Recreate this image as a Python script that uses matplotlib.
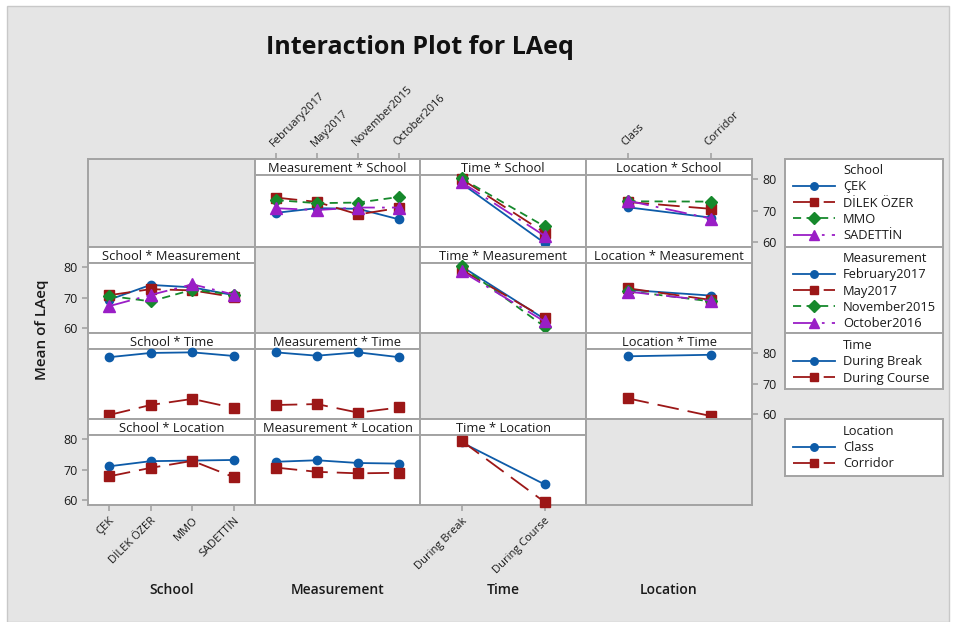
import matplotlib
matplotlib.use('Agg')
import matplotlib.pyplot as plt
from matplotlib.lines import Line2D
from matplotlib.patches import Rectangle
import numpy as np

plt.rcParams['font.family'] = ['Open Sans', 'DejaVu Sans']

# factors and levels
factors = ['School', 'Measurement', 'Time', 'Location']
school_levels = ['ÇEK', 'DİLEK ÖZER', 'MMO', 'SADETTİN']
measurement_levels = ['February2017', 'May2017', 'November2015', 'October2016']
time_levels = ['During Break', 'During Course']
location_levels = ['Class', 'Corridor']
levels = [school_levels, measurement_levels, time_levels, location_levels]

# mean LAeq per cell (rows = first factor level, cols = second factor level)
school_measurement = [[69.3, 70.8, 70.6, 67.2],
                      [74.2, 72.8, 68.8, 70.9],
                      [73.4, 72.4, 72.6, 74.4],
                      [70.8, 70.2, 71.0, 71.0]]
school_time = [[78.7, 59.7],
               [80.1, 63.0],
               [80.3, 65.0],
               [79.1, 62.0]]
school_location = [[71.1, 67.8],
                   [72.8, 70.6],
                   [73.0, 72.9],
                   [73.2, 67.5]]
measurement_time = [[80.3, 63.0],
                    [79.2, 63.3],
                    [80.3, 60.5],
                    [78.7, 62.2]]
measurement_location = [[72.6, 70.7],
                        [73.1, 69.3],
                        [72.2, 68.8],
                        [72.0, 69.0]]
time_location = [[79.0, 79.5],
                 [65.2, 59.4]]

y_ticks = [60, 70, 80]

pair_means = {(0, 1): school_measurement, (0, 2): school_time,
              (0, 3): school_location, (1, 2): measurement_time,
              (1, 3): measurement_location, (2, 3): time_location}


def cell_means(trace, xf):
    if (trace, xf) in pair_means:
        return np.array(pair_means[(trace, xf)])
    return np.array(pair_means[(xf, trace)]).T


# styling
W, H = 954, 622
bg = '#e5e5e5'
grid_col = '#a3a3a3'
text_col = '#1a1a1a'
colors = ['#0d5ba8', '#9c1717', '#16892c', '#9a1ec6']
markers = ['o', 's', 'D', '^']
msizes = [6, 6.5, 6.5, 8]
dashes = ['-', (0, (12, 5)), (0, (4.5, 3)), (0, (12, 4, 1.5, 4))]
lw = 1.3

col_edges = [88, 255, 420, 586, 752]
row_edges = [159, 247, 333, 419, 505]
strip = 16
ylim = (58.4, 81.4)


def box(x0, y0, x1, y1):
    return [x0 / W, 1 - y1 / H, (x1 - x0) / W, (y1 - y0) / H]


def style_spines(ax):
    for s in ax.spines.values():
        s.set_color(grid_col)
        s.set_linewidth(1.4)


fig = plt.figure(figsize=(W / 100, H / 100), dpi=100)
fig.patch.set_facecolor('white')
fig.add_artist(Rectangle((7 / W, 0), (949 - 7) / W, (H - 6) / H,
                         transform=fig.transFigure, facecolor=bg,
                         edgecolor='#c8c8c8', lw=1, zorder=-10))

tick_kw = dict(colors=grid_col, labelcolor=text_col, length=4, width=1.2)

for r in range(4):
    for c in range(4):
        x0, x1 = col_edges[c], col_edges[c + 1]
        y0, y1 = row_edges[r], row_edges[r + 1]
        nx = len(levels[c])
        if r == c:
            ax = fig.add_axes(box(x0, y0, x1, y1))
            ax.set_facecolor(bg)
            ax.set_xticks([])
            ax.set_yticks([])
            style_spines(ax)
            continue

        tax = fig.add_axes(box(x0, y0, x1, y0 + strip))
        tax.set_facecolor('white')
        tax.set_xlim(0.5, nx + 0.5)
        tax.set_yticks([])
        tax.set_xticks([])
        style_spines(tax)
        tax.text(0.5, 0.42, f'{factors[c]} * {factors[r]}', ha='center',
                 va='center', transform=tax.transAxes, fontsize=9.3,
                 color=text_col)

        ax = fig.add_axes(box(x0, y0 + strip, x1, y1))
        ax.set_facecolor('white')
        style_spines(ax)
        ax.set_xlim(0.5, nx + 0.5)
        ax.set_ylim(*ylim)
        ax.set_xticks([])
        ax.set_yticks([])

        means = cell_means(r, c)
        xs = np.arange(1, nx + 1)
        for k, row in enumerate(means):
            ax.plot(xs, row, color=colors[k], linestyle=dashes[k], lw=lw,
                    marker=markers[k], markersize=msizes[k], clip_on=False,
                    zorder=3 + k)

        # axis ticks along the outer edge (alternating like Minitab)
        if c == 0 and r in (1, 3):
            ax.set_yticks(y_ticks)
            ax.tick_params(axis='y', left=True, labelsize=9, **tick_kw)
        if c == 3 and r in (0, 2):
            ax.set_yticks(y_ticks)
            ax.yaxis.tick_right()
            ax.tick_params(axis='y', right=True, left=False, labelsize=9,
                           **tick_kw)
        if r == 3 and c in (0, 2):
            ax.set_xticks(xs)
            ax.set_xticklabels(levels[c], rotation=45, ha='right', va='top',
                               rotation_mode='anchor')
            ax.tick_params(axis='x', bottom=True, labelsize=8, **tick_kw)
        if r == 0 and c in (1, 3):
            tax.set_xticks(xs)
            tax.xaxis.tick_top()
            tax.set_xticklabels(levels[c], rotation=45, ha='left',
                                va='bottom', rotation_mode='anchor')
            tax.tick_params(axis='x', top=True, bottom=False, labelsize=8,
                            **tick_kw)

# legends, one box per trace factor
legend_boxes = [(159, 247), (247, 333), (333, 389), (419, 476)]
for r, (ly0, ly1) in enumerate(legend_boxes):
    lax = fig.add_axes(box(785, ly0, 943, ly1))
    lax.set_facecolor('white')
    lax.set_xticks([])
    lax.set_yticks([])
    style_spines(lax)
    handles = [Line2D([], [], linestyle='none')]
    labels = [factors[r]]
    for k, name in enumerate(levels[r]):
        handles.append(Line2D([], [], color=colors[k], linestyle=dashes[k],
                              lw=lw, marker=markers[k],
                              markersize=msizes[k] * 0.9))
        labels.append(name)
    lax.legend(handles, labels, loc='upper left', bbox_to_anchor=(0, 1.03),
               frameon=False, fontsize=9.3, handlelength=3.3, numpoints=1,
               handletextpad=0.6, labelspacing=0.25, borderaxespad=0.2,
               labelcolor=text_col)

# titles and axis labels
fig.text(420 / W, 1 - 48 / H, 'Interaction Plot for LAeq', ha='center',
         va='center', fontsize=18, fontweight='bold', color='#111111')
fig.text(42 / W, 1 - 330 / H, 'Mean of LAeq', ha='center', va='center',
         rotation=90, fontsize=11, fontweight='semibold', color=text_col)
for c, name in enumerate(factors):
    xc = (col_edges[c] + col_edges[c + 1]) / 2
    fig.text(xc / W, 1 - 590 / H, name, ha='center', va='center',
             fontsize=10, fontweight='semibold', color=text_col)

fig.savefig('out.png', dpi=100, facecolor=fig.get_facecolor())
